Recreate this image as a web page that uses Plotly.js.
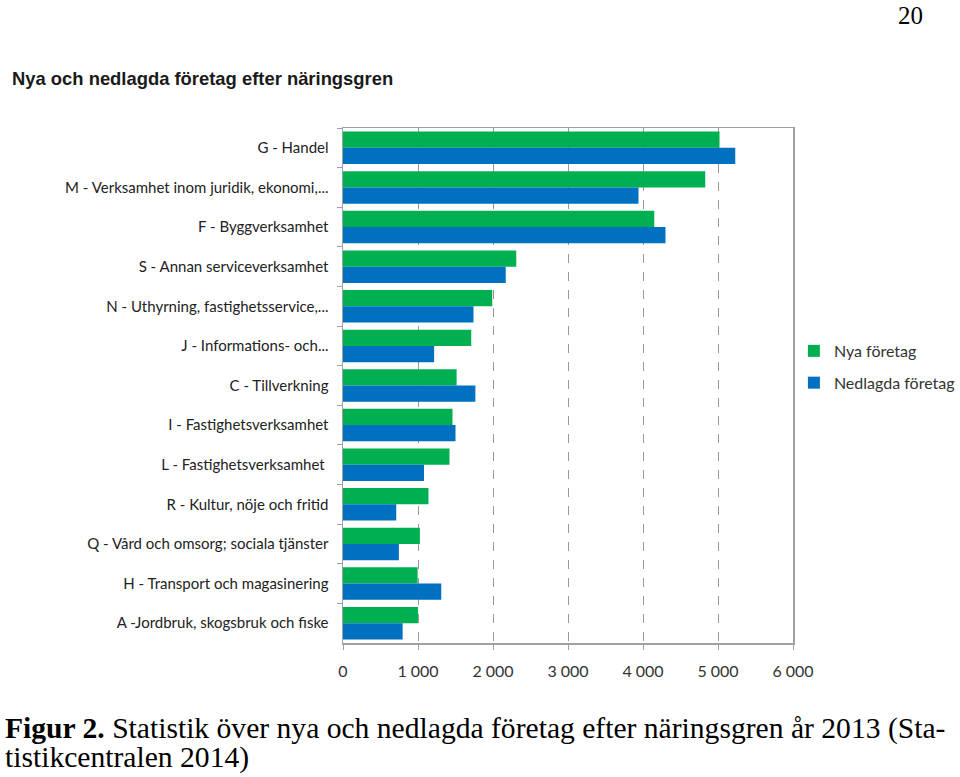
<!DOCTYPE html>
<html>
<head>
<meta charset="utf-8">
<script src="https://cdn.plot.ly/plotly-3.0.1.min.js"></script>
<style>
html,body{margin:0;padding:0;background:#fff;}
#chart{width:960px;height:777px;}
</style>
</head>
<body>
<div id="chart"></div>
<script>
const categories = [
  "G - Handel",
  "M - Verksamhet inom juridik, ekonomi,...",
  "F - Byggverksamhet",
  "S - Annan serviceverksamhet",
  "N - Uthyrning, fastighetsservice,...",
  "J - Informations- och...",
  "C - Tillverkning",
  "I - Fastighetsverksamhet",
  "L - Fastighetsverksamhet ",
  "R - Kultur, nöje och fritid",
  "Q - Vård och omsorg; sociala tjänster",
  "H - Transport och magasinering",
  "A -Jordbruk, skogsbruk och fiske"
];
const nyaForetag = [5020, 4830, 4150, 2310, 1990, 1710, 1515, 1460, 1420, 1140, 1025, 995, 1000];
const nedlagdaForetag = [5230, 3940, 4300, 2170, 1740, 1215, 1765, 1500, 1080, 710, 745, 1310, 795];
const xTickVals = [0, 1000, 2000, 3000, 4000, 5000, 6000];
const xTickText = ["0", "1 000", "2 000", "3 000", "4 000", "5 000", "6 000"];
const seriesNames = ["Nya företag", "Nedlagda företag"];

const traces = [
  {type: "bar", orientation: "h", name: seriesNames[0], y: categories, x: nyaForetag,
   marker: {color: "#00B050"}, legendgroup: "a"},
  {type: "bar", orientation: "h", name: seriesNames[1], y: categories, x: nedlagdaForetag,
   marker: {color: "#0070C0"}, legendgroup: "b"}
];

const layout = {
  width: 960, height: 777,
  margin: {l: 343, r: 167, t: 128, b: 134, autoexpand: false},
  paper_bgcolor: "#fff", plot_bgcolor: "#fff",
  barmode: "group", bargap: 0.18, bargroupgap: 0,
  showlegend: true,
  legend: {x: 1.002, xanchor: "left", y: 0.536, yanchor: "middle",
           bgcolor: "rgba(0,0,0,0)",
           font: {family: "Lato, sans-serif", size: 16, color: "#333"},
           traceorder: "grouped", tracegroupgap: 8, itemwidth: 30},
  xaxis: {range: [0, 6000], tickvals: xTickVals, ticktext: xTickText,
          showgrid: true, gridcolor: "#999", griddash: "dash", gridwidth: 1,
          showline: true, linecolor: "#a0a0a0", linewidth: 1.5, mirror: true,
          ticks: "outside", ticklen: 5, tickcolor: "#a0a0a0",
          ticklabelstandoff: 8,
          zeroline: false, fixedrange: true,
          tickfont: {family: "Lato, sans-serif", size: 16, color: "#333"}},
  yaxis: {type: "category", autorange: "reversed",
          showline: true, linecolor: "#a0a0a0", linewidth: 1.5, mirror: true,
          ticks: "outside", ticklen: 5, tickcolor: "#a0a0a0", tickson: "boundaries",
          ticklabelstandoff: 10,
          tickfont: {family: "Lato, sans-serif", size: 15, color: "#222"}},
  title: {text: "<b>Nya och nedlagda företag efter näringsgren</b>",
          xref: "container", yref: "container", x: 0.0125, xanchor: "left",
          y: 1 - 79/777, yanchor: "middle",
          font: {family: "Liberation Sans, Arial, sans-serif", size: 18.4, color: "#1a1a1a"}},
  annotations: [
    {text: "20", xref: "paper", yref: "paper",
     x: (910 - 343) / 450, y: 1 + (128 - 15) / 515, xanchor: "center", yanchor: "middle",
     showarrow: false, font: {family: "Liberation Serif, Times New Roman, serif", size: 25, color: "#000"}},
    {text: "<b>Figur 2.</b> Statistik över nya och nedlagda företag efter näringsgren år 2013 (Sta-",
     xref: "paper", yref: "paper", x: (3 - 343) / 450, y: -(728 - 643) / 515, xanchor: "left", yanchor: "middle", align: "left",
     showarrow: false, font: {family: "Liberation Serif, Times New Roman, serif", size: 29.6, color: "#000"}},
    {text: "tistikcentralen 2014)",
     xref: "paper", yref: "paper", x: (3 - 343) / 450, y: -(757 - 643) / 515, xanchor: "left", yanchor: "middle", align: "left",
     showarrow: false, font: {family: "Liberation Serif, Times New Roman, serif", size: 29.6, color: "#000"}}
  ]
};

Plotly.newPlot("chart", traces, layout, {displayModeBar: false, staticPlot: true});
</script>
</body>
</html>
